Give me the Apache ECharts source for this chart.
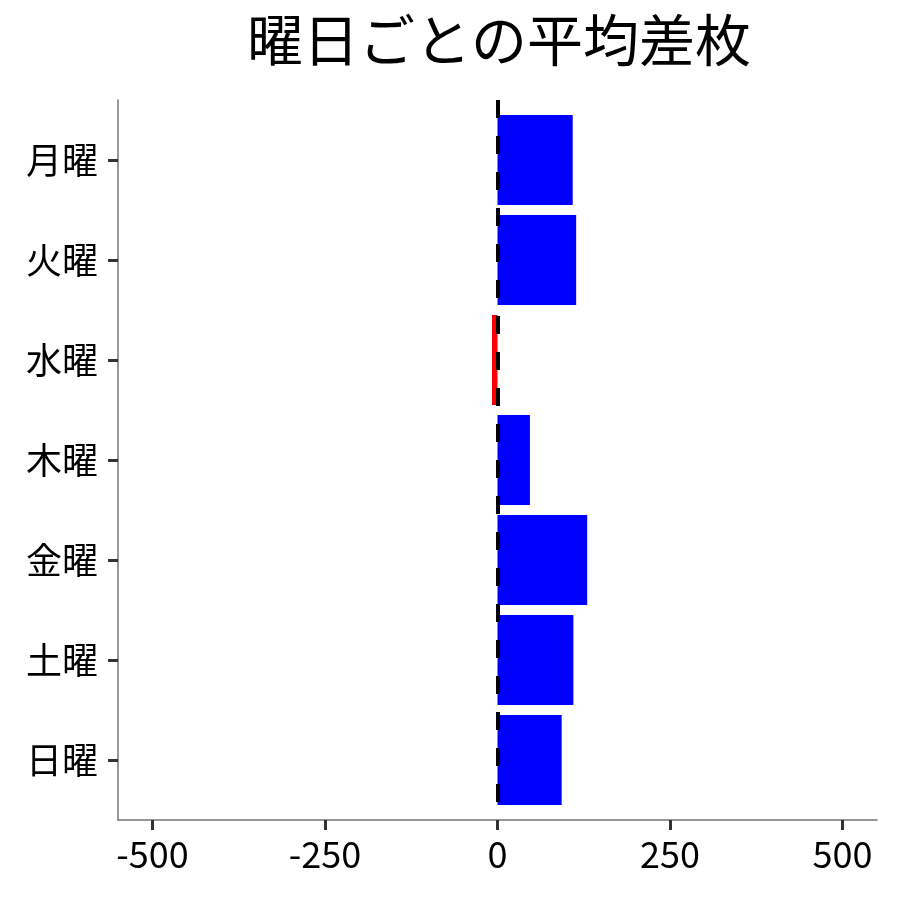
<!DOCTYPE html>
<html><head><meta charset="utf-8">
<script src="https://cdn.jsdelivr.net/npm/echarts@6/dist/echarts.min.js"></script>
<style>html,body{margin:0;padding:0;background:#fff}#c{width:900px;height:900px}</style>
</head><body><div id="c"></div>
<script>
const chartTitle = '曜日ごとの平均差枚';
const days = ['月曜', '火曜', '水曜', '木曜', '金曜', '土曜', '日曜'];
const diffs = [109, 114, -8, 47, 130, 110, 93];
const xTicks = [-500, -250, 0, 250, 500];
const dayIdx = [0, 1, 2, 3, 4, 5, 6];

const FONT = '"Noto Sans CJK JP", "Noto Sans", sans-serif';
const chart = echarts.init(document.getElementById('c'), null, {renderer: 'canvas'});
chart.setOption({
  animation: false,
  backgroundColor: '#fff',
  title: {
    text: chartTitle, left: 494, top: 7, textAlign: 'center',
    textStyle: {fontFamily: FONT, fontSize: 56, fontWeight: 'normal', color: '#000'}
  },
  grid: {left: 118, right: 23, top: 100, bottom: 80, containLabel: false},
  xAxis: {
    type: 'value', min: -550, max: 550, splitLine: {show: false},
    axisLine: {show: true, onZero: false, lineStyle: {color: '#777', width: 1.5}},
    axisTick: {show: true, customValues: xTicks, length: 10, lineStyle: {color: '#333', width: 3}},
    axisLabel: {customValues: xTicks, margin: 16, fontFamily: FONT, fontSize: 36, color: '#000'}
  },
  yAxis: {
    type: 'value', min: -0.6, max: 6.6, inverse: true, splitLine: {show: false},
    axisLine: {show: true, onZero: false, lineStyle: {color: '#777', width: 1.5}},
    axisTick: {show: true, customValues: dayIdx, length: 10, lineStyle: {color: '#333', width: 3}},
    axisLabel: {
      customValues: dayIdx,
      formatter: function (v) { const k = Math.round(v); return days[k] !== undefined ? days[k] : ''; },
      margin: 20, fontFamily: FONT, fontSize: 36, color: '#000'
    }
  },
  series: [{
    type: 'custom',
    data: diffs.map(function (v, i) { return [v, i]; }),
    encode: {x: 0, y: 1},
    renderItem: function (params, api) {
      const v = api.value(0), i = api.value(1);
      const p0 = api.coord([0, i]);
      const p1 = api.coord([v, i]);
      const h = api.size([0, 0.9])[1];
      return {
        type: 'rect',
        shape: {x: Math.min(p0[0], p1[0]), y: p0[1] - h / 2, width: Math.abs(p1[0] - p0[0]), height: h},
        style: {fill: v < 0 ? '#ff0000' : '#0000ff'}
      };
    },
    markLine: {
      silent: true, symbol: ['none', 'none'], label: {show: false}, z: 10,
      lineStyle: {color: '#000', width: 4, type: [18, 18]},
      data: [{xAxis: 0}]
    }
  }]
});
</script></body></html>
